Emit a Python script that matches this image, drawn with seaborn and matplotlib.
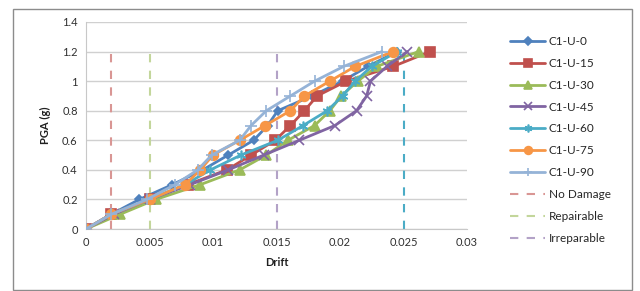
import numpy as np
import pandas as pd
import matplotlib
matplotlib.use("Agg")
import matplotlib.pyplot as plt
from matplotlib.patches import Rectangle
import seaborn as sns

# PGA levels (g) shared by every record
pga = [0, 0.1, 0.2, 0.3, 0.4, 0.5, 0.6, 0.7, 0.8, 0.9, 1.0, 1.1, 1.2]

# drift for each record
drift_u0 = [0, 0.002, 0.0042, 0.0068, 0.0092, 0.0112, 0.0132, 0.0143, 0.0151, 0.0178, 0.0202, 0.0222, 0.0245]
drift_u15 = [0, 0.002, 0.005, 0.008, 0.0111, 0.013, 0.0149, 0.0161, 0.0172, 0.0182, 0.0205, 0.0242, 0.0271]
drift_u30 = [0, 0.0027, 0.0055, 0.009, 0.0121, 0.0142, 0.0159, 0.018, 0.0192, 0.0201, 0.0214, 0.0229, 0.0262]
drift_u45 = [0, 0.0022, 0.005, 0.0082, 0.0112, 0.014, 0.0168, 0.0196, 0.0213, 0.0221, 0.0224, 0.0237, 0.0253]
drift_u60 = [0, 0.002, 0.005, 0.0078, 0.0098, 0.0122, 0.0151, 0.0171, 0.019, 0.0202, 0.0212, 0.0225, 0.0245]
drift_u75 = [0, 0.002, 0.005, 0.0078, 0.009, 0.01, 0.0121, 0.0141, 0.0161, 0.0172, 0.0192, 0.0212, 0.0242]
drift_u90 = [0, 0.002, 0.0048, 0.007, 0.0088, 0.0099, 0.0121, 0.013, 0.0142, 0.0161, 0.018, 0.0203, 0.0233]

series_names = ['C1-U-0', 'C1-U-15', 'C1-U-30', 'C1-U-45', 'C1-U-60', 'C1-U-75', 'C1-U-90']
series_drift = [drift_u0, drift_u15, drift_u30, drift_u45, drift_u60, drift_u75, drift_u90]

# damage state limits
limit_names = ['No Damage', 'Repairable', 'Irreparable', None]
limit_drift = [0.002, 0.005, 0.015, 0.025]
limit_pga = [0, 1.2]

colors = ['#4F81BD', '#C0504D', '#9BBB59', '#8064A2', '#4BACC6', '#F79646', '#95B3D7']
markers = ['D', 's', '^', 'x', (6, 2, 0), 'o', '+']
msizes = [4.5, 7, 6.5, 7, 7, 7, 8]
limit_colors = ['#D99694', '#C3D69B', '#B3A2C7', '#4BACC6']

sns.set_style("white")
plt.rcParams['font.family'] = ['Lato', 'DejaVu Sans']

fig = plt.figure(figsize=(6.4, 2.91), dpi=100)
ax = fig.add_axes([86 / 640, 1 - 229 / 291, (467 - 86) / 640, (229 - 22) / 291])

# outer chart border
fig.patches.append(Rectangle((13 / 640, 1 / 291), (632 - 13) / 640, (290 - 8) / 291 - 1 / 291,
                             transform=fig.transFigure, fill=False, edgecolor='#8c8c8c', lw=1))

for name, dr, c, m, ms in zip(series_names, series_drift, colors, markers, msizes):
    df = pd.DataFrame({'Drift': dr, 'PGA': pga})
    sns.lineplot(data=df, x='Drift', y='PGA', ax=ax, color=c, marker=m, markersize=ms,
                 markeredgecolor=c, markeredgewidth=1.2, lw=2, sort=False,
                 estimator=None, label=name, zorder=3)

for name, xv, c in zip(limit_names, limit_drift, limit_colors):
    df = pd.DataFrame({'Drift': [xv, xv], 'PGA': limit_pga})
    sns.lineplot(data=df, x='Drift', y='PGA', ax=ax, color=c, lw=1.5, linestyle=(0, (4, 4)),
                 sort=False, estimator=None, label=name if name else '_nolegend_', zorder=2)

ax.set_xlim(0, 0.03)
ax.set_ylim(0, 1.4)
ax.set_xticks(np.arange(0, 0.031, 0.005))
ax.set_xticklabels(['0', '0.005', '0.01', '0.015', '0.02', '0.025', '0.03'])
ax.set_yticks(np.arange(0, 1.41, 0.2))
ax.set_yticklabels(['0', '0.2', '0.4', '0.6', '0.8', '1', '1.2', '1.4'])
ax.tick_params(labelsize=8, colors='#303030', length=0, pad=6)
ax.yaxis.grid(True, color='#d0d0d0', lw=1)
ax.xaxis.grid(False)
for s in ['top', 'right']:
    ax.spines[s].set_visible(False)
for s in ['left', 'bottom']:
    ax.spines[s].set_color('#c8c8c8')
ax.set_xlabel('Drift', fontsize=8, fontweight='bold', color='#202020', labelpad=6)
ax.set_ylabel('PGA (g)', fontsize=8, fontweight='bold', color='#202020', labelpad=8)

ax.legend(loc='upper left', bbox_to_anchor=(1.1, 0.955), frameon=False, fontsize=8.5,
          handlelength=3.0, labelspacing=0.92, handletextpad=0.3, borderaxespad=0,
          markerscale=0.8)

plt.savefig('out.png', dpi=100)
